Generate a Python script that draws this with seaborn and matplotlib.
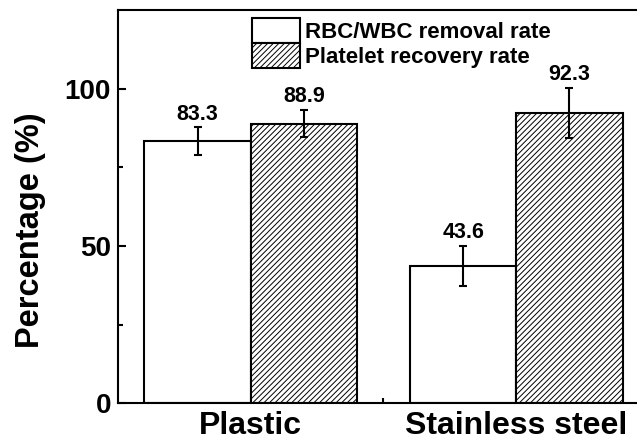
import matplotlib
matplotlib.use("Agg")
import matplotlib.pyplot as plt
from matplotlib.ticker import FixedLocator
import pandas as pd
import seaborn as sns

materials = ["Plastic", "Stainless steel"]
series = ["RBC/WBC removal rate", "Platelet recovery rate"]
removal = [83.3, 43.6]
recovery = [88.9, 92.3]
removal_err = [4.4, 6.4]
recovery_err = [4.3, 7.9]

df = pd.DataFrame({
    "material": materials * 2,
    "series": [series[0]] * 2 + [series[1]] * 2,
    "value": removal + recovery,
})

sns.set_style("ticks")
plt.rcParams["font.family"] = ["Liberation Sans", "DejaVu Sans"]
plt.rcParams["font.weight"] = "bold"
plt.rcParams["text.color"] = "black"
plt.rcParams["axes.labelcolor"] = "black"
plt.rcParams["xtick.color"] = "black"
plt.rcParams["ytick.color"] = "black"
plt.rcParams["axes.edgecolor"] = "black"
plt.rcParams["hatch.color"] = "#9a9a9a"
plt.rcParams["hatch.linewidth"] = 0.7

fig = plt.figure(figsize=(6.37, 4.42), dpi=100)
ax = fig.add_axes([0.185, 0.088, 0.834, 0.889])

sns.barplot(
    data=df, x="material", y="value", hue="series",
    palette=["white", "white"], saturation=1, edgecolor="black",
    linewidth=1.5, errorbar=None, legend=False, ax=ax,
)

# hatch the platelet bars, then add error bars and value labels
bar_groups = list(ax.containers)
errs = [removal_err, recovery_err]
vals = [removal, recovery]
for i, cont in enumerate(bar_groups):
    for j, bar in enumerate(cont.patches):
        if i == 1:
            bar.set_hatch("//////")
        xc = bar.get_x() + bar.get_width() / 2
        ax.errorbar(xc, vals[i][j], yerr=errs[i][j], color="black",
                    elinewidth=1.5, capsize=3.2, capthick=1.5, fmt="none")
        ax.annotate(f"{vals[i][j]:.1f}", (xc, vals[i][j] + errs[i][j]),
                    xytext=(0, 2), textcoords="offset points",
                    ha="center", va="bottom", fontsize=15.5, fontweight="bold")

ax.legend(bar_groups, series, loc="upper left", bbox_to_anchor=(0.253, 0.979),
          frameon=False, fontsize=16, borderaxespad=0, borderpad=0,
          handlelength=2.16, handleheight=1.32, labelspacing=0,
          handletextpad=0.2)

ax.set_xlim(-0.5, 1.5)
ax.set_ylim(0, 125)
ax.set_yticks([0, 50, 100])
ax.yaxis.set_minor_locator(FixedLocator([25, 75]))
ax.xaxis.set_minor_locator(FixedLocator([0.5]))
ax.tick_params(which="both", direction="in", width=1.5)
ax.tick_params(which="major", length=6)
ax.tick_params(which="minor", length=3.5)
ax.tick_params(axis="y", labelsize=20, pad=5)
ax.tick_params(axis="x", labelsize=23, pad=6)
for lab in ax.get_xticklabels() + ax.get_yticklabels():
    lab.set_fontweight("bold")

ax.set_xlabel("")
ax.set_ylabel("Percentage (%)", fontsize=23.5, fontweight="bold")
ax.yaxis.set_label_coords(-0.136, 0.44)

for side in ["left", "bottom", "top", "right"]:
    ax.spines[side].set_linewidth(1.5)

fig.savefig("out.png", dpi=100)
